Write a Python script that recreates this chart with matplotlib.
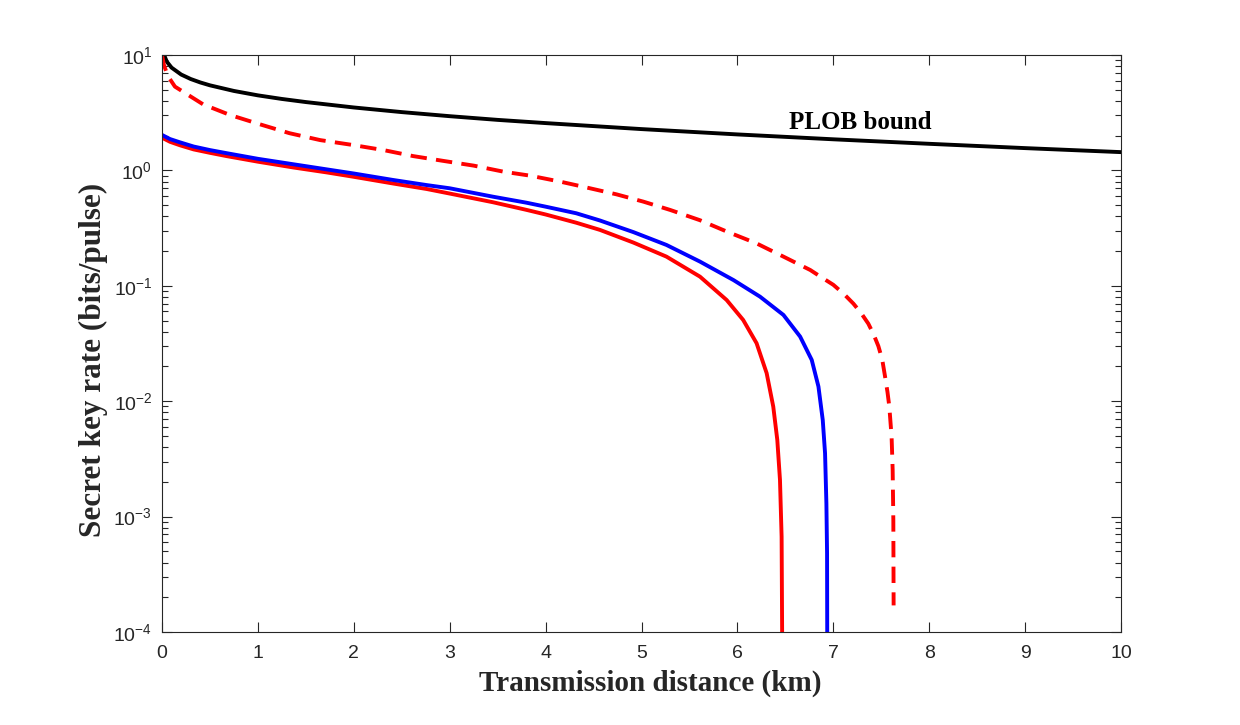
import matplotlib
matplotlib.use("Agg")
import matplotlib.pyplot as plt
from matplotlib.ticker import FixedLocator, FixedFormatter, LogLocator, NullFormatter

# ---------------- data ----------------
plob_x = [0.01, 0.02, 0.05, 0.1, 0.2, 0.3, 0.4, 0.5, 0.75, 1.0, 1.25, 1.5, 2.0, 2.5, 3.0, 3.5, 4.0, 5.0, 6.0,
          7.0, 8.0, 9.0, 10.0]
plob_y = [11.1, 10.1, 8.76, 7.77, 6.77, 6.19, 5.78, 5.46, 4.88, 4.47, 4.16, 3.91, 3.51, 3.20, 2.95, 2.74, 2.57,
          2.28, 2.05, 1.86, 1.70, 1.56, 1.44]

dash_x = [0.0, 0.02, 0.06, 0.135, 0.19, 0.43, 0.71, 1.02, 1.33, 1.65, 1.99, 2.31, 2.62, 2.93, 3.25,
          3.56, 3.84, 4.15, 4.43, 4.74, 5.02, 5.30, 5.61, 5.89, 6.20, 6.48, 6.76, 6.88, 7.00, 7.11, 7.21,
          7.29, 7.365, 7.42, 7.47, 7.51, 7.54, 7.565, 7.584, 7.608, 7.619, 7.626, 7.629]
dash_y = [10.0, 8.2, 6.6, 5.32, 4.98, 3.73, 3.02, 2.51, 2.10, 1.83, 1.66, 1.50, 1.33, 1.21, 1.10,
          0.975, 0.90, 0.80, 0.71, 0.62, 0.536, 0.454, 0.37, 0.295, 0.233, 0.179, 0.137, 0.118, 0.102, 0.085,
          0.070, 0.058, 0.047, 0.038, 0.030, 0.023, 0.0163, 0.012, 0.0090, 0.0049, 0.00254, 0.00093, 0.00017]

blue_x = [0.0, 0.083, 0.188, 0.33, 0.5, 0.674, 1.0, 1.37, 1.72, 2.0, 2.41, 2.76, 3.0, 3.45, 3.80, 4.0,
          4.32, 4.567, 4.915, 5.26, 5.61, 5.96, 6.236, 6.48, 6.654, 6.775, 6.845, 6.89, 6.914, 6.928,
          6.935, 6.939]
blue_y = [2.03, 1.87, 1.75, 1.61, 1.50, 1.41, 1.26, 1.13, 1.02, 0.94, 0.826, 0.746, 0.70, 0.592, 0.525, 0.485,
          0.425, 0.368, 0.292, 0.226, 0.162, 0.112, 0.0805, 0.0559, 0.0363, 0.0228, 0.0134, 0.00687, 0.00354,
          0.0013, 0.00048, 0.00001]

red_x = [0.0, 0.083, 0.188, 0.33, 0.5, 0.674, 1.0, 1.37, 1.72, 2.0, 2.41, 2.76, 3.0, 3.45, 3.80, 4.0,
         4.32, 4.567, 4.915, 5.26, 5.61, 5.888, 6.06, 6.2, 6.305, 6.374, 6.416, 6.444, 6.461, 6.473]
red_y = [1.92, 1.77, 1.65, 1.52, 1.42, 1.33, 1.19, 1.06, 0.96, 0.88, 0.77, 0.69, 0.63, 0.53, 0.455, 0.415,
         0.352, 0.305, 0.237, 0.179, 0.12, 0.0753, 0.0506, 0.0318, 0.0175, 0.00897, 0.00462, 0.00208, 0.00067,
         0.00001]

x_ticks = list(range(0, 11))
x_tick_labels = [str(v) for v in x_ticks]
y_ticks = [1e-4, 1e-3, 1e-2, 1e-1, 1e0, 1e1]
y_tick_labels = [r'$\mathregular{10^{-4}}$', r'$\mathregular{10^{-3}}$', r'$\mathregular{10^{-2}}$',
                 r'$\mathregular{10^{-1}}$', r'$\mathregular{10^{0}}$', r'$\mathregular{10^{1}}$']

annotation_text = "PLOB bound"
xlabel_text = "Transmission distance (km)"
ylabel_text = "Secret key rate (bits/pulse)"

# ---------------- style ----------------
plt.rcParams['font.family'] = ['Liberation Sans', 'DejaVu Sans']
plt.rcParams['mathtext.fontset'] = 'custom'
plt.rcParams['mathtext.rm'] = 'Liberation Sans'
plt.rcParams['axes.unicode_minus'] = False

axis_col = '#262626'
W, H = 1240, 725
fig = plt.figure(figsize=(W / 100, H / 100), dpi=100)
ax = fig.add_axes([162 / W, 1 - 632 / H, (1121 - 162) / W, (632 - 55) / H])

lw = 2.8
ax.plot(plob_x, plob_y, color='black', lw=lw, solid_joinstyle='round')
ax.plot(dash_x, dash_y, color='#ff0000', lw=lw, dashes=(4.2, 2.4))
ax.plot(red_x, red_y, color='#ff0000', lw=lw, solid_joinstyle='round')
ax.plot(blue_x, blue_y, color='#0000ff', lw=lw, solid_joinstyle='round')

ax.set_yscale('log')
ax.set_xlim(0, 10)
ax.set_ylim(1e-4, 1e1)

ax.xaxis.set_major_locator(FixedLocator(x_ticks))
ax.xaxis.set_major_formatter(FixedFormatter(x_tick_labels))
ax.yaxis.set_major_locator(FixedLocator(y_ticks))
ax.yaxis.set_major_formatter(FixedFormatter(y_tick_labels))
ax.yaxis.set_minor_locator(LogLocator(base=10, subs=range(2, 10)))
ax.yaxis.set_minor_formatter(NullFormatter())

ax.tick_params(which='both', direction='in', top=True, right=True, color=axis_col,
               labelcolor=axis_col, width=0.8)
ax.tick_params(which='major', length=7)
ax.tick_params(which='minor', length=4)
ax.tick_params(axis='x', labelsize=14, pad=9)
ax.tick_params(axis='y', labelsize=14, pad=7)
for s in ax.spines.values():
    s.set_color(axis_col)
    s.set_linewidth(0.8)

serif = ['Liberation Serif', 'DejaVu Serif']
ax.set_xlabel(xlabel_text, family=serif, fontweight='bold', fontsize=21, color=axis_col)
ax.xaxis.label.set_va('center')
ax.xaxis.set_label_coords((650 - 162) / 959, (632 - 683) / 577)
ax.set_ylabel(ylabel_text, family=serif, fontweight='bold', fontsize=22.5, color=axis_col)
ax.yaxis.label.set_va('center')
ax.yaxis.label.set_ha('center')
ax.yaxis.set_label_coords((93 - 162) / 959, (632 - 360) / 577)

ax.text(7.28, 2.58, annotation_text, family=serif, fontweight='bold', fontsize=18,
        color='black', ha='center', va='center')

fig.savefig('out.png', dpi=100, facecolor='white')
